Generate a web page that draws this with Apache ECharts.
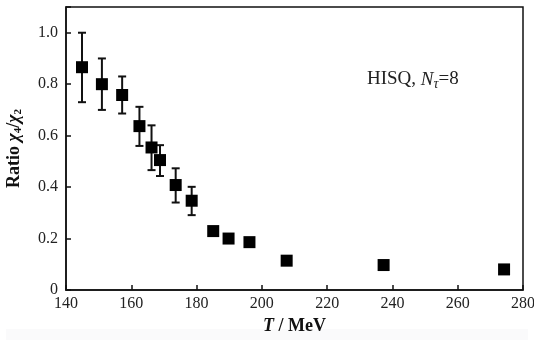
<!DOCTYPE html>
<html>
<head>
<meta charset="utf-8">
<script src="https://cdn.jsdelivr.net/npm/echarts@6/dist/echarts.min.js"></script>
<style>
  html, body { margin: 0; padding: 0; background: #fff; }
  #chart { width: 534px; height: 340px; }
</style>
</head>
<body>
<div id="chart"></div>
<script>
  // 数据
  const temps = [144.9, 151.0, 157.2, 162.5, 166.2, 168.8, 173.6, 178.5, 185.1, 189.8, 196.2, 207.6, 237.3, 274.2];
  const ratio = [0.866, 0.80, 0.758, 0.637, 0.554, 0.505, 0.408, 0.347, 0.229, 0.20, 0.186, 0.114, 0.097, 0.080];
  const errLow = [0.73, 0.70, 0.686, 0.56, 0.466, 0.443, 0.34, 0.291, 0.215, 0.20, 0.186, 0.114, 0.097, 0.080];
  const errHigh = [1.0, 0.90, 0.83, 0.712, 0.64, 0.563, 0.473, 0.401, 0.245, 0.20, 0.186, 0.114, 0.097, 0.080];
  const xTicks = [140, 160, 180, 200, 220, 240, 260, 280];
  const yTicks = [0, 0.2, 0.4, 0.6, 0.8, 1.0];

  const serif = '"Liberation Serif", "DejaVu Serif", serif';
  const points = temps.map((t, i) => [t, ratio[i]]);
  const bars = temps.map((t, i) => [t, errLow[i], errHigh[i]]);

  let mycharts = echarts.init(document.getElementById('chart'));
  mycharts.setOption({
    animation: false,
    backgroundColor: '#fff',
    grid: {
      left: 66, right: 11, top: 7, bottom: 50,
      outerBoundsMode: 'none',
      containLabel: false,
      show: true,
      borderColor: '#111',
      borderWidth: 1.5
    },
    xAxis: {
      type: 'value',
      min: 140, max: 280, interval: 20,
      name: '{i|T}{b| / MeV}',
      nameLocation: 'middle',
      nameGap: 27,
      nameTextStyle: {
        rich: {
          i: { fontFamily: serif, fontSize: 18, fontWeight: 'bold', fontStyle: 'italic', color: '#111' },
          b: { fontFamily: serif, fontSize: 18, fontWeight: 'bold', color: '#111' }
        }
      },
      splitLine: { show: false },
      axisLine: { lineStyle: { color: '#111', width: 1.5 } },
      axisTick: { inside: true, length: 5, lineStyle: { color: '#111', width: 1.5 } },
      axisLabel: {
        margin: 6,
        fontFamily: serif, fontSize: 16, color: '#222',
        formatter: v => xTicks.includes(v) ? String(v) : ''
      }
    },
    yAxis: {
      type: 'value',
      min: 0, max: 1.1, interval: 0.2,
      name: '{b|Ratio }{i|χ}{s|4}{b|/}{i|χ}{s|2}',
      nameLocation: 'middle',
      nameGap: 42,
      nameTextStyle: {
        rich: {
          b: { fontFamily: serif, fontSize: 18, fontWeight: 'bold', color: '#111' },
          i: { fontFamily: serif, fontSize: 18, fontWeight: 'bold', fontStyle: 'italic', color: '#111' },
          s: { fontFamily: serif, fontSize: 11, fontWeight: 'bold', color: '#111', padding: [9, 0, 0, 0] }
        }
      },
      splitLine: { show: false },
      axisLine: { show: true, lineStyle: { color: '#111', width: 1.5 } },
      axisTick: { show: true, inside: true, length: 5, lineStyle: { color: '#111', width: 1.5 } },
      axisLabel: {
        margin: 8,
        fontFamily: serif, fontSize: 16, color: '#222',
        formatter: v => {
          const t = yTicks.find(y => Math.abs(y - v) < 1e-6);
          if (t === undefined) return '';
          return t === 0 ? '0' : t.toFixed(1);
        }
      }
    },
    graphic: [{
      type: 'rect',
      left: 6, top: 329,
      shape: { width: 522, height: 11 },
      style: { fill: '#fafafb' },
      z: -10
    }, {
      type: 'text',
      left: 367, top: 70,
      style: {
        text: '{n|HISQ, }{i|N}{s|τ}{n|=8}',
        rich: {
          n: { fontFamily: serif, fontSize: 19, fill: '#222' },
          i: { fontFamily: serif, fontSize: 19, fontStyle: 'italic', fill: '#222' },
          s: { fontFamily: serif, fontSize: 14, fontStyle: 'italic', fill: '#222', padding: [9, 0, 0, 0] }
        }
      }
    }],
    series: [{
      // 误差棒
      type: 'custom',
      data: bars,
      renderItem: (params, api) => {
        const lo = api.coord([api.value(0), api.value(1)]);
        const hi = api.coord([api.value(0), api.value(2)]);
        if (Math.abs(lo[1] - hi[1]) < 1) return null;
        const w = 4;
        const style = { stroke: '#111', lineWidth: 2 };
        return {
          type: 'group',
          children: [
            { type: 'line', shape: { x1: lo[0], y1: lo[1], x2: hi[0], y2: hi[1] }, style },
            { type: 'line', shape: { x1: lo[0] - w, y1: lo[1], x2: lo[0] + w, y2: lo[1] }, style },
            { type: 'line', shape: { x1: hi[0] - w, y1: hi[1], x2: hi[0] + w, y2: hi[1] }, style }
          ]
        };
      },
      z: 2
    }, {
      type: 'scatter',
      data: points,
      symbol: 'rect',
      symbolSize: 12,
      itemStyle: { color: '#000', opacity: 1 },
      z: 3
    }]
  });
</script>
</body>
</html>
